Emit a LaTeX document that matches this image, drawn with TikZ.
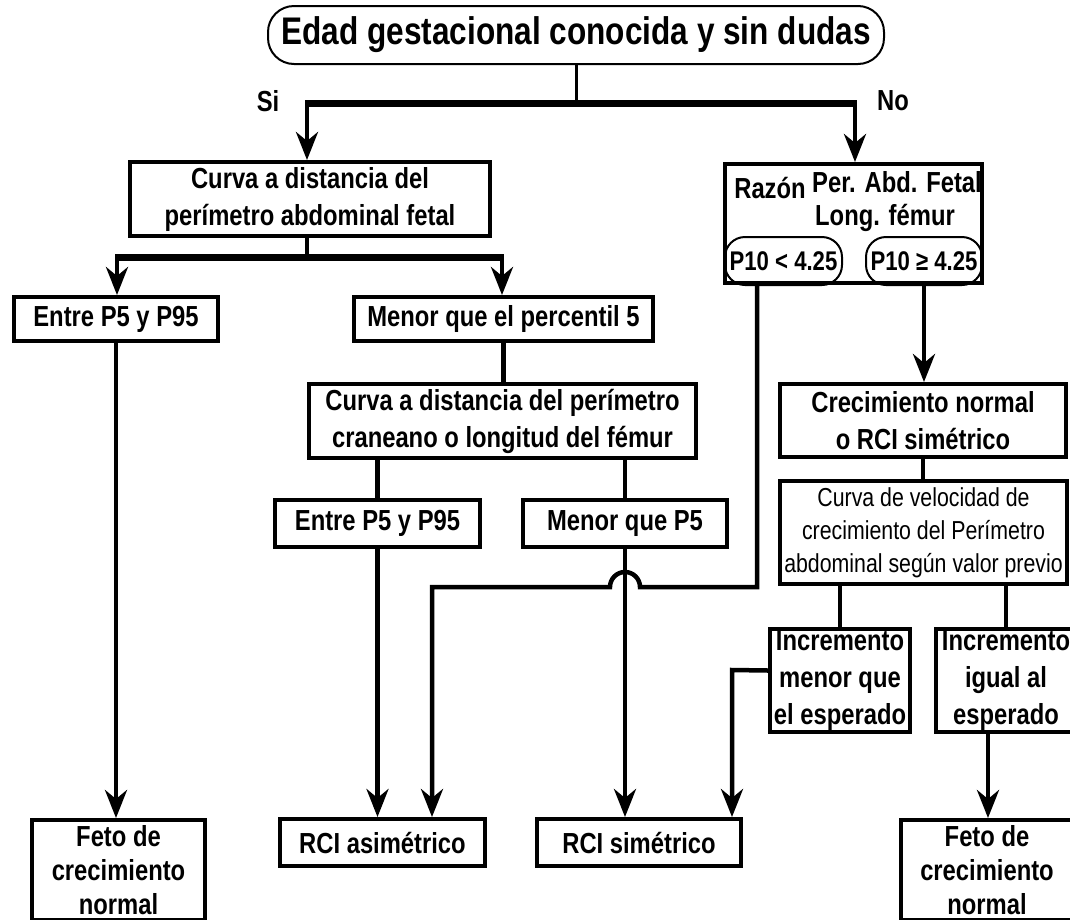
\documentclass[tikz,border=0pt]{standalone}
\usepackage{fontspec}
\setmainfont{Liberation Sans}[FakeStretch=0.82]
\usetikzlibrary{arrows.meta,calc}

\begin{document}
\begin{tikzpicture}[x=1pt, y=-1pt,
  box/.style={rectangle, draw, line width=4pt, fill=white, align=center, inner sep=2pt,
              font=\bfseries\fontsize{29}{37}\selectfont},
  pill/.style={rectangle, draw, line width=2pt, rounded corners=20pt, inner sep=1pt,
               font=\bfseries\fontsize{27}{32}\selectfont},
  titlebox/.style={rectangle, draw, line width=2pt, rounded corners=26pt, inner sep=2pt,
                   font=\bfseries\fontsize{38.5}{44}\selectfont},
  lbl/.style={inner sep=0pt, font=\bfseries\fontsize{29}{37}\selectfont},
  link/.style={line width=4.5pt},
  bar/.style={line width=7pt},
  arr/.style={line width=4.5pt, -{Stealth[length=28pt,width=22pt,inset=9pt]}}
]
  \useasboundingbox (0,0) rectangle (1070,919);
  \clip (0,0) rectangle (1070,919);

  % top question
  \node[titlebox, minimum width=616pt, minimum height=58pt] (edad) at (576,35) {Edad gestacional conocida y sin dudas};
  \node[lbl] (si) at (268,101) {Si};
  \node[lbl] (no) at (893,101) {No};
  \coordinate (brsi) at (307,103);
  \coordinate (brno) at (855,103);

  % left branch
  \node[box, minimum width=360pt, minimum height=74pt] (abd) at (310,199) {Curva a distancia del\\perímetro abdominal fetal};
  \node[box, minimum width=204pt, minimum height=44pt] (entre1) at (116,319) {Entre P5 y P95};
  \node[box, minimum width=299pt, minimum height=44pt] (menor1) at (503.5,319) {Menor que el percentil 5};
  \node[box, minimum width=387pt, minimum height=74pt] (crane) at (502.5,421) {Curva a distancia del perímetro\\craneano o longitud del fémur};
  \node[box, minimum width=205pt, minimum height=47pt] (entre2) at (377.5,523.5) {Entre P5 y P95};
  \node[box, minimum width=204pt, minimum height=47pt] (menor2) at (625,523.5) {Menor que P5};
  \coordinate (brabd) at (307,257);
  \coordinate (brent) at (117,257);
  \coordinate (brmen) at (502,257);

  % right branch
  \node[box, minimum width=257pt, minimum height=119pt] (razon) at (853.5,223.5) {};
  \node[lbl] (razlbl) at (770,188) {Razón};
  \node[lbl] (perabd) at (897,182) {Per. Abd. Fetal};
  \node[lbl] (longfem) at (885,218) {Long. fémur};
  \node[pill, minimum width=117pt, minimum height=48pt] (plt) at (783.5,261) {P10 < 4.25};
  \node[pill, minimum width=116pt, minimum height=48pt] (pge) at (924,261) {P10 ≥ 4.25};
  \node[box, minimum width=286pt, minimum height=73pt] (crecn) at (923,420.5) {Crecimiento normal\\o RCI simétrico};
  \node[box, minimum width=287pt, minimum height=103pt, font=\fontsize{26}{33}\selectfont] (veloc) at (923.5,532.5)
    {Curva de velocidad de\\crecimiento del Perímetro\\abdominal según valor previo};
  \node[box, minimum width=140pt, minimum height=101pt] (incmen) at (840,680.5) {Incremento\\menor que\\el esperado};
  \node[box, minimum width=140pt, minimum height=101pt] (incigu) at (1006,680.5) {Incremento\\igual al\\esperado};

  % results
  \node[box, minimum width=173pt, minimum height=100pt, font=\bfseries\fontsize{29}{34}\selectfont] (feto1) at (118.5,870) {Feto de\\crecimiento\\normal};
  \node[box, minimum width=205pt, minimum height=47pt] (rcia) at (382.5,842.5) {RCI asimétrico};
  \node[box, minimum width=204pt, minimum height=47pt] (rcis) at (639,842.5) {RCI simétrico};
  \node[box, minimum width=172pt, minimum height=100pt, font=\bfseries\fontsize{29}{34}\selectfont] (feto2) at (987,870) {Feto de\\crecimiento\\normal};
  \coordinate (tlt) at (757,587);
  \coordinate (tasim) at (432,587);
  \coordinate (tsim) at (732,670);
  \coordinate (tfeto) at (988,733);

  % connectors
  \draw[line width=3pt] (edad.south) -- (edad.south |- brsi);
  \draw[bar] ([xshift=-2pt]brsi) -- ([xshift=2pt]brno);
  \draw[arr] (brsi) -- (brsi |- abd.north);
  \draw[arr] (brno) -- (brno |- razon.north);
  \draw[link] (brabd |- abd.south) -- (brabd);
  \draw[bar] ([xshift=-2pt]brent) -- ([xshift=2pt]brmen);
  \draw[arr] (brent) -- (brent |- entre1.north);
  \draw[arr] (brmen) -- (brmen |- menor1.north);
  \draw[arr] (entre1.south) -- (entre1.south |- feto1.north);
  \draw[link] (menor1.south) -- (menor1.south |- crane.north);
  \draw[link] (entre2.north |- crane.south) -- (entre2.north);
  \draw[link] (menor2.north |- crane.south) -- (menor2.north);
  \draw[arr] (entre2.south) -- (entre2.south |- rcia.north);
  \draw[arr] (menor2.south) -- (menor2.south |- rcis.north);
  \draw[arr] (tlt |- plt.south) -- (tlt) -- ($(menor2.south |- tlt)+(15,0)$)
    arc[start angle=0, end angle=180, radius=15pt] -- (tasim) -- (tasim |- rcia.north);
  \draw[arr] (pge.south) -- (pge.south |- crecn.north);
  \draw[link] (crecn.south) -- (crecn.south |- veloc.north);
  \draw[link] (incmen.north |- veloc.south) -- (incmen.north);
  \draw[link] (incigu.north |- veloc.south) -- (incigu.north);
  \draw[arr] ([yshift=10pt]incmen.west) -- (tsim) -- (tsim |- rcis.north);
  \draw[arr] (tfeto |- incigu.south) -- (tfeto |- feto2.north);
\end{tikzpicture}
\end{document}
